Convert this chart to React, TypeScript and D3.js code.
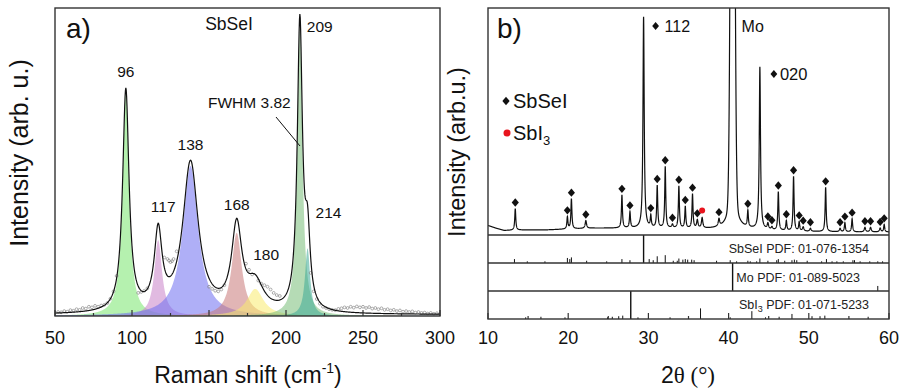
import React from "react";
import * as d3 from "d3";

const W = 902;
const H = 389;
const FONT = "'Liberation Sans', Arial, sans-serif";

// ---- panel a) Raman ----
const ramanTicks = [50, 100, 150, 200, 250, 300];
const ramanCenters = [96, 117, 138, 168, 180, 209, 214];
const ramanHeights = [72, 24.7, 48.7, 27, 8.8, 93.5, 22];
const ramanFwhm = [5, 6, 12, 8, 13, 4, 4];
const ramanColors = ["#78e66e", "#c882c8", "#6e6ef0", "#c87878", "#faeb6e", "#78be78", "#3caa96"];
const ramanBaseline = 0.4;
// measured points (where they show beside the fitted line)
const ramanMeasured: [number, number][] = [
  [50, 1.0], [52, 1.3], [54, 1.2], [56, 1.6], [58, 1.4], [60, 1.9], [62, 1.7], [64, 2.2],
  [66, 2.0], [68, 2.6], [70, 2.4], [72, 3.0], [74, 2.8], [76, 3.3], [78, 3.0], [80, 3.4],
  [82, 3.6], [84, 4.2], [86, 5.6], [88, 8.0], [90, 13], [104, 7.5], [106, 7.8], [108, 8.2],
  [110, 9.0], [121, 19], [123, 18.5], [124, 18], [125, 17.5], [126, 17.8], [127, 18.5],
  [129, 21], [150, 9.5], [152, 8.8], [154, 8.2], [156, 8.0], [158, 8.6], [160, 10],
  [174, 17], [176, 15], [178, 13.5], [182, 11.5], [184, 10.5], [186, 10], [188, 9.5],
  [190, 8.6], [192, 7.5], [194, 6.8], [196, 6.5], [216, 14], [218, 8], [220, 5.5], [222, 4],
  [224, 3.0], [226, 2.6], [228, 2.2], [230, 2.0], [232, 1.9], [234, 2.3], [236, 2.5],
  [238, 2.8], [240, 2.6], [242, 3.0], [244, 2.7], [246, 3.1], [248, 2.8], [250, 3.0],
  [252, 2.6], [254, 2.9], [256, 2.4], [258, 2.6], [260, 2.2], [262, 2.5], [264, 2.0],
  [266, 2.2], [268, 1.8], [270, 2.0], [272, 1.6], [274, 1.8], [276, 1.4], [278, 1.6],
  [280, 1.3], [282, 1.5], [284, 1.1], [286, 1.3], [288, 1.0], [290, 1.1], [292, 0.8],
  [294, 1.0], [296, 0.7], [298, 0.9], [300, 0.6],
];

// ---- panel b) XRD ----
const xrdTicks = [10, 20, 30, 40, 50, 60];
// [2theta, height, fwhm, shape, marker]
const xrdPeaks: [number, number, number, string, string][] = [
  [13.4, 9.5, 0.15, "L", "d"], [19.9, 5.3, 0.15, "L", "d"], [20.4, 13.2, 0.15, "L", "d"],
  [22.2, 3.4, 0.2, "L", "d"], [26.7, 14.5, 0.15, "L", "d"], [27.7, 7.0, 0.15, "L", "d"],
  [29.4, 93, 0.18, "L", ""], [30.3, 5.0, 0.15, "L", "d"], [31.1, 18.5, 0.15, "L", "d"],
  [32.1, 27, 0.15, "L", "d"], [33.0, 1.5, 0.2, "L", "d"], [33.8, 18.5, 0.15, "L", "d"],
  [34.6, 9.5, 0.15, "L", "d"], [35.5, 15, 0.15, "L", "d"], [36.1, 3.5, 0.2, "L", "d"],
  [36.7, 4.5, 0.2, "L", "r"], [38.8, 3.2, 0.2, "L", "d"], [40.5, 365, 0.49, "G", ""],
  [40.5, 20, 1.0, "L", ""], [42.4, 7.2, 0.15, "L", "d"], [43.9, 71.5, 0.18, "L", ""],
  [44.9, 2.6, 0.2, "L", "d"], [45.4, 1.2, 0.2, "L", "d"], [46.2, 17, 0.15, "L", "d"],
  [47.2, 4.3, 0.15, "L", "d"], [48.1, 24, 0.15, "L", "d"], [48.8, 3.9, 0.15, "L", "d"],
  [49.3, 1.8, 0.2, "L", "d"], [50.2, 1.3, 0.2, "L", "d"], [52.1, 19.5, 0.15, "L", "d"],
  [53.9, 1.5, 0.2, "L", "d"], [54.5, 4.0, 0.15, "L", "d"], [55.4, 5.8, 0.15, "L", "d"],
  [57.0, 2.0, 0.2, "L", "d"], [57.7, 2.0, 0.2, "L", "d"], [58.9, 1.7, 0.2, "L", "d"],
  [59.4, 3.3, 0.15, "L", "d"],
];
const xrdBgPos = [10, 11, 12, 14, 17, 20, 23, 26, 30, 34, 38, 42, 46, 50, 55, 60];
const xrdBgVal = [4.2, 3.0, 2.0, 2.2, 2.2, 2.6, 3.0, 3.0, 3.0, 2.8, 2.6, 2.4, 1.8, 1.5, 1.3, 1.3];

const sbseiSticks: [number, number][] = [
  [13.3, 14], [14.9, 6], [17.1, 6], [19.9, 18], [20.2, 14], [20.4, 20], [22.3, 8], [24.8, 6],
  [26.7, 14], [27.7, 10], [29.4, 100], [30.1, 14], [30.6, 10], [31.1, 24], [32.1, 28],
  [33.1, 8], [33.6, 8], [33.8, 16], [34.3, 12], [34.6, 14], [34.9, 12], [35.4, 12], [35.7, 10],
  [38.5, 8], [40.2, 10], [41.0, 6], [42.4, 8], [42.7, 6], [43.5, 6], [43.9, 16], [44.9, 8],
  [46.0, 10], [46.2, 14], [47.0, 8], [47.9, 10], [48.2, 12], [48.5, 10], [49.8, 8], [51.6, 6],
  [52.2, 14], [52.9, 6], [53.5, 6], [54.3, 6], [55.5, 10], [55.7, 10], [56.4, 6], [57.6, 6],
  [58.6, 6], [59.2, 6],
];
const moSticks: [number, number][] = [[40.5, 100], [58.6, 18]];
const sbi3Sticks: [number, number][] = [
  [14.7, 6], [16.6, 8], [19.6, 6], [24.9, 6], [25.5, 8], [26.3, 10], [26.8, 12], [27.8, 100],
  [28.7, 6], [32.7, 6], [36.5, 38], [40.2, 6], [42.9, 28], [44.6, 6], [46.3, 8], [47.9, 18],
  [50.4, 10], [51.4, 10], [52.0, 12], [57.4, 8],
];

const lor = (x: number, c: number, h: number, w: number) => h / (1 + ((x - c) / (w / 2)) ** 2);
const gau = (x: number, c: number, h: number, w: number) => {
  const s = w / 2.3548;
  return h * Math.exp(-((x - c) ** 2) / (2 * s * s));
};

const diamond = (cx: number, cy: number, r = 4.2) =>
  `M${cx},${cy - r}L${cx + r * 0.85},${cy}L${cx},${cy + r}L${cx - r * 0.85},${cy}Z`;

export default function App() {
  // scales
  const xa = d3.scaleLinear().domain([50, 300]).range([55, 440]);
  const ya = d3.scaleLinear().domain([0, 100]).range([316, 8]);
  const xb = d3.scaleLinear().domain([10, 60]).range([488, 889]);
  const yb = d3.scaleLinear().domain([0, 100]).range([235, 8]);
  const bg = d3.scaleLinear().domain(xrdBgPos).range(xrdBgVal).clamp(true);

  // raman
  const rx = d3.range(50, 300.01, 0.25);
  const fitAt = (x: number) =>
    ramanBaseline + d3.sum(ramanCenters, (c, i) => lor(x, c, ramanHeights[i], ramanFwhm[i]));
  const area = d3.area<[number, number]>().x(d => xa(d[0])).y0(ya(0)).y1(d => ya(d[1]));
  const lineA = d3.line<[number, number]>().x(d => xa(d[0])).y(d => ya(d[1]));
  const comps = ramanCenters.map((c, i) =>
    rx.map(x => [x, lor(x, c, ramanHeights[i], ramanFwhm[i])] as [number, number])
  );
  const fit = rx.map(x => [x, fitAt(x)] as [number, number]);

  // xrd
  const profile = (x: number) =>
    bg(x) + d3.sum(xrdPeaks, p => (p[3] === "G" ? gau(x, p[0], p[1], p[2]) : lor(x, p[0], p[1], p[2])));
  const bx = d3.range(10, 60.001, 0.01);
  const lineB = d3.line<number>().x(d => xb(d)).y(d => yb(profile(d)));

  const subBoxes: { top: number; sticks: [number, number][] }[] = [
    { top: 235, sticks: sbseiSticks },
    { top: 263, sticks: moSticks },
    { top: 291, sticks: sbi3Sticks },
  ];
  const boxH = 28;

  const ticksA = d3.range(50, 301, 25);
  const ticksB = d3.range(10, 61, 5);

  return (
    <svg width={W} height={H} style={{ position: "absolute", left: 0, top: 0, background: "#fff" }}
      fontFamily={FONT}>
      <defs>
        <clipPath id="clipA"><rect x={55} y={8} width={385} height={308} /></clipPath>
        <clipPath id="clipB"><rect x={488} y={8} width={401} height={227} /></clipPath>
      </defs>

      {/* ---------- a) ---------- */}
      <g clipPath="url(#clipA)">
        {comps.map((c, i) => (
          <path key={i} d={area(c) || ""} fill={ramanColors[i]} fillOpacity={0.55} />
        ))}
        {ramanMeasured.map((p, i) => (
          <circle key={i} cx={xa(p[0])} cy={ya(p[1])} r={1.4} fill="none" stroke="#8a8a8a" strokeWidth={0.7} />
        ))}
        <path d={lineA(fit) || ""} fill="none" stroke="#111" strokeWidth={1.2} />
      </g>
      <rect x={55} y={8} width={385} height={308} fill="none" stroke="#333" strokeWidth={1.4} />
      {ticksA.map(t => (
        <line key={t} x1={xa(t)} x2={xa(t)} y1={316} y2={t % 50 === 0 ? 310 : 313} stroke="#333" strokeWidth={1.2} />
      ))}
      {ramanTicks.map(t => (
        <text key={t} x={xa(t)} y={344} fontSize={18} textAnchor="middle" fill="#111">{t}</text>
      ))}
      <text x={248} y={383} fontSize={23} textAnchor="middle" fill="#111">
        Raman shift (cm<tspan fontSize={14} dy={-10}>-1</tspan><tspan dy={10}>)</tspan>
      </text>
      <text transform="translate(28,153) rotate(-90)" fontSize={25} textAnchor="middle" fill="#111">
        Intensity (arb. u.)
      </text>
      <text x={66} y={38} fontSize={28} fill="#111">a)</text>
      <text x={229} y={30} fontSize={17.5} textAnchor="middle" fill="#111">SbSeI</text>
      <text x={xa(96)} y={ya(fitAt(96)) - 11} fontSize={15.5} textAnchor="middle" fill="#111">96</text>
      <text x={xa(117) + 5} y={ya(fitAt(117)) - 11} fontSize={15.5} textAnchor="middle" fill="#111">117</text>
      <text x={xa(138)} y={ya(fitAt(138)) - 10} fontSize={15.5} textAnchor="middle" fill="#111">138</text>
      <text x={xa(168)} y={ya(fitAt(168)) - 8} fontSize={15.5} textAnchor="middle" fill="#111">168</text>
      <text x={xa(180) + 11} y={ya(fitAt(180)) - 14} fontSize={15.5} textAnchor="middle" fill="#111">180</text>
      <text x={xa(209) + 7} y={ya(fitAt(209)) + 18} fontSize={15.5} fill="#111">209</text>
      <text x={xa(214) + 8} y={ya(fitAt(214)) + 13} fontSize={15.5} fill="#111">214</text>
      <text x={208} y={108} fontSize={15.5} fill="#111">FWHM 3.82</text>
      <line x1={276} y1={117} x2={300} y2={146} stroke="#111" strokeWidth={1} />

      {/* ---------- b) ---------- */}
      <g clipPath="url(#clipB)">
        <path d={lineB(bx) || ""} fill="none" stroke="#111" strokeWidth={1.2} />
      </g>
      {xrdPeaks.filter(p => p[4] === "d").map((p, i) => (
        <path key={i} d={diamond(xb(p[0]), yb(profile(p[0])) - 6)} fill="#111" />
      ))}
      {xrdPeaks.filter(p => p[4] === "r").map((p, i) => (
        <circle key={i} cx={xb(p[0])} cy={yb(profile(p[0])) - 7} r={3} fill="#e8141e" />
      ))}
      {subBoxes.map((b, k) => (
        <g key={k}>
          {b.sticks.map((s, i) => (
            <line key={i} x1={xb(s[0])} x2={xb(s[0])} y1={b.top + boxH}
              y2={b.top + boxH - (s[1] / 100) * boxH} stroke="#111" strokeWidth={s[1] >= 100 ? 1.4 : 1} />
          ))}
          <line x1={488} x2={889} y1={b.top} y2={b.top} stroke="#333" strokeWidth={1.3} />
        </g>
      ))}
      <rect x={488} y={8} width={401} height={311} fill="none" stroke="#333" strokeWidth={1.4} />
      {ticksB.map(t => (
        <line key={t} x1={xb(t)} x2={xb(t)} y1={319} y2={t % 10 === 0 ? 313 : 316} stroke="#333" strokeWidth={1.2} />
      ))}
      {xrdTicks.map(t => (
        <text key={t} x={xb(t)} y={344} fontSize={18} textAnchor="middle" fill="#111">{t}</text>
      ))}
      <text x={869} y={253} fontSize={12.5} textAnchor="end" fill="#222">SbSeI PDF: 01-076-1354</text>
      <text x={860} y={282} fontSize={12.5} textAnchor="end" fill="#222">Mo PDF: 01-089-5023</text>
      <text x={869} y={309} fontSize={12.5} textAnchor="end" fill="#222">
        SbI<tspan fontSize={9} dy={3}>3</tspan><tspan dy={-3}> PDF: 01-071-5233</tspan>
      </text>
      <text x={688} y={383} fontSize={23} textAnchor="middle" fill="#111">
        2<tspan fontFamily="'Liberation Serif', 'Times New Roman', serif">θ (°)</tspan>
      </text>
      <text transform="translate(465,152) rotate(-90)" fontSize={23.5} textAnchor="middle" fill="#111">
        Intensity (arb.u.)
      </text>
      <text x={497} y={38} fontSize={28} fill="#111">b)</text>
      <path d={diamond(xb(29.4) + 12, 26, 4)} fill="#111" />
      <text x={xb(29.4) + 21} y={32} fontSize={16} fill="#111">112</text>
      <text x={xb(40.5) + 9} y={32} fontSize={16} fill="#111">Mo</text>
      <path d={diamond(xb(43.9) + 14, 74, 4)} fill="#111" />
      <text x={xb(43.9) + 20} y={80} fontSize={16.5} fill="#111">020</text>
      <path d={diamond(506, 101, 4.3)} fill="#111" />
      <text x={513} y={108} fontSize={20} fill="#111">SbSeI</text>
      <circle cx={507} cy={133} r={3.5} fill="#e8141e" />
      <text x={513} y={140} fontSize={20} fill="#111">
        SbI<tspan fontSize={13} dy={5}>3</tspan>
      </text>
    </svg>
  );
}
